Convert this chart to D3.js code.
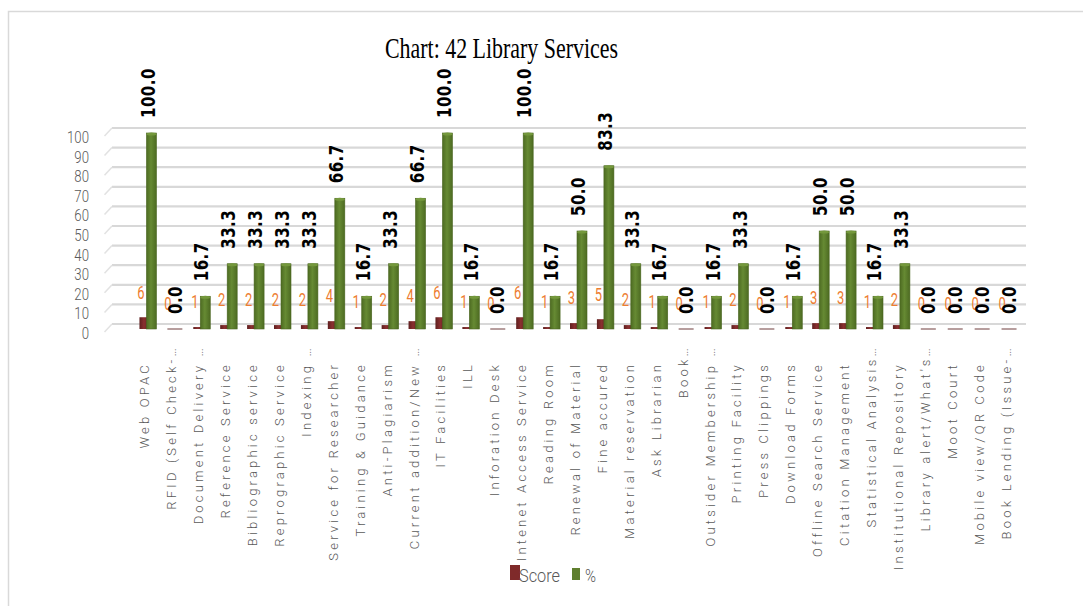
<!DOCTYPE html>
<html>
<head>
<meta charset="utf-8">
<script src="https://cdn.jsdelivr.net/npm/d3@7"></script>
<style>
  html, body { margin: 0; padding: 0; background: #fff; }
  svg { display: block; }
</style>
</head>
<body>
<svg id="chart" width="1083" height="606"></svg>
<script>
// Services surveyed, their scores (out of 6) and the share in percent
const categories = [
  "Web OPAC", "RFID (Self Check-…", "Document Delivery …", "Reference Service",
  "Bibliographic service", "Reprographic Service", "Indexing …", "Service for Researcher",
  "Training & Guidance", "Anti-Plagiarism", "Current addition/New …", "IT Facilities",
  "ILL", "Inforation Desk", "Intenet Access Service", "Reading Room",
  "Renewal of Material", "Fine accured", "Material reservation", "Ask Librarian",
  "Book…", "Outsider Membership …", "Printing Facility", "Press Clippings",
  "Download Forms", "Offline Search Service", "Citation Management", "Statistical Analysis…",
  "Institutional Repository", "Library alert/What's…", "Moot Court", "Mobile view/QR Code",
  "Book Lending (Issue-…"
];
const scores = [6, 0, 1, 2, 2, 2, 2, 4, 1, 2, 4, 6, 1, 0, 6, 1, 3, 5, 2, 1, 0, 1, 2, 0, 1, 3, 3, 1, 2, 0, 0, 0, 0];
const percents = [100.0, 0.0, 16.7, 33.3, 33.3, 33.3, 33.3, 66.7, 16.7, 33.3, 66.7, 100.0, 16.7, 0.0, 100.0, 16.7,
  50.0, 83.3, 33.3, 16.7, 0.0, 16.7, 33.3, 0.0, 16.7, 50.0, 50.0, 16.7, 33.3, 0.0, 0.0, 0.0, 0.0];
const yTicks = [0, 10, 20, 30, 40, 50, 60, 70, 80, 90, 100];
const seriesNames = ["Score", "%"];

const svg = d3.select("#chart");

// gradients give the columns a rounded, shaded look
const defs = svg.append("defs");
function shade(id, dark, mid) {
  const g = defs.append("linearGradient").attr("id", id).attr("x1", 0).attr("x2", 1).attr("y1", 0).attr("y2", 0);
  g.append("stop").attr("offset", "0%").attr("stop-color", dark);
  g.append("stop").attr("offset", "45%").attr("stop-color", mid);
  g.append("stop").attr("offset", "100%").attr("stop-color", dark);
}
shade("gGreen", "#4d6b22", "#668a33");
shade("gRed", "#5e1f1f", "#8a3030");

// outer chart frame
svg.append("rect").attr("x", 8.5).attr("y", 11.5).attr("width", 1100).attr("height", 620)
  .attr("fill", "#fff").attr("stroke", "#d9d9d9").attr("stroke-width", 1.5);

const x = d3.scaleBand().domain(categories).range([134.5, 1022.5]).padding(0);
const y = d3.scaleLinear().domain([0, 100]).range([329, 133]);
const cx = d => x(d) + x.bandwidth() / 2;

// back wall gridlines with the short receding side-wall stroke
const grid = svg.append("g");
yTicks.forEach(v => {
  const yb = y(v) - 5;
  grid.append("line").attr("x1", 112).attr("x2", 1026).attr("y1", yb).attr("y2", yb)
    .attr("stroke", "#d8d8d8").attr("stroke-width", 2.2);
  grid.append("line").attr("x1", 104.5).attr("x2", 112).attr("y1", yb + 8).attr("y2", yb)
    .attr("stroke", "#e2e2e2").attr("stroke-width", 1.5);
});

// y axis tick labels
const yAxis = svg.append("g");
yTicks.forEach(v => {
  yAxis.append("text")
    .attr("transform", `translate(89,${y(v) + 4.5}) scale(0.8,1)`)
    .attr("text-anchor", "end").attr("dominant-baseline", "central")
    .attr("font-family", "Roboto, sans-serif").attr("font-size", 16.5).attr("font-weight", 300)
    .attr("fill", "#595959").text(v);
});

// columns
const bars = svg.append("g");
categories.forEach((c, i) => {
  const xc = cx(c);
  const s = scores[i], p = percents[i];
  // Score column, set slightly behind
  if (s > 0) {
    bars.append("rect").attr("x", xc - 8.5).attr("width", 10)
      .attr("y", y(s)).attr("height", y(0) - y(s)).attr("fill", "url(#gRed)");
  }
  if (p > 0) {
    bars.append("rect").attr("x", xc - 1.5).attr("width", 10)
      .attr("y", y(p)).attr("height", y(0) - y(p)).attr("fill", "url(#gGreen)")
      .attr("stroke", "#4a6620").attr("stroke-width", 0.6);
    bars.append("ellipse").attr("cx", xc + 3.5).attr("cy", y(p) + 1).attr("rx", 5).attr("ry", 1.6)
      .attr("fill", "#74983c");
  }
  if (s === 0 && p === 0) {
    bars.append("rect").attr("x", xc - 7.5).attr("width", 15).attr("y", y(0) - 1).attr("height", 2)
      .attr("fill", "#b79e9e");
  }
});

// value labels
const labels = svg.append("g");
categories.forEach((c, i) => {
  const xc = cx(c);
  const s = scores[i], p = percents[i];
  labels.append("text")
    .attr("transform", `translate(${xc - 7},${y(s) - 25}) scale(0.72,1)`)
    .attr("text-anchor", "middle").attr("dominant-baseline", "central")
    .attr("font-family", "Roboto, sans-serif").attr("font-size", 18)
    .attr("fill", "#ed7d31").text(s);
  labels.append("text")
    .attr("transform", `translate(${xc},${y(p) - 15}) rotate(-90) scale(1,1.27)`)
    .attr("text-anchor", "start").attr("dominant-baseline", "central")
    .attr("font-family", "DejaVu Sans, sans-serif").attr("font-size", 15).attr("font-weight", "bold")
    .attr("letter-spacing", 0.5)
    .attr("fill", "#000").text(p.toFixed(1));
});

// category labels, vertical
const xAxis = svg.append("g");
categories.forEach(c => {
  const top = c.endsWith("…") ? 345 : 362;
  xAxis.append("text")
    .attr("transform", `translate(${cx(c) - 3},${top}) rotate(-90)`)
    .attr("text-anchor", "end").attr("dominant-baseline", "central")
    .attr("font-family", "Roboto, sans-serif").attr("font-size", 13).attr("font-weight", 300)
    .attr("letter-spacing", 3.2)
    .attr("fill", "#595959").text(c);
});

// legend
const legend = svg.append("g");
legend.append("rect").attr("x", 503).attr("y", 561).attr("width", 100).attr("height", 28).attr("fill", "#fff");
legend.append("rect").attr("x", 510).attr("y", 565).attr("width", 10).attr("height", 15).attr("fill", "#7f2a2a");
legend.append("text").attr("x", 519).attr("y", 582)
  .attr("font-family", "Roboto, sans-serif").attr("font-size", 19).attr("font-weight", 300)
  .attr("textLength", 41).attr("lengthAdjust", "spacingAndGlyphs")
  .attr("fill", "#595959").text(seriesNames[0]);
legend.append("rect").attr("x", 572).attr("y", 568).attr("width", 8).attr("height", 12).attr("fill", "#5f7f2f");
legend.append("text").attr("x", 585).attr("y", 582)
  .attr("font-family", "Roboto, sans-serif").attr("font-size", 19).attr("font-weight", 300)
  .attr("textLength", 11).attr("lengthAdjust", "spacingAndGlyphs")
  .attr("fill", "#595959").text(seriesNames[1]);

// title
svg.append("text").attr("x", 385).attr("y", 58)
  .attr("font-family", "Liberation Serif, Times New Roman, serif").attr("font-size", 30)
  .attr("textLength", 233).attr("lengthAdjust", "spacingAndGlyphs")
  .attr("fill", "#000").text("Chart:  42 Library Services");
</script>
</body>
</html>
